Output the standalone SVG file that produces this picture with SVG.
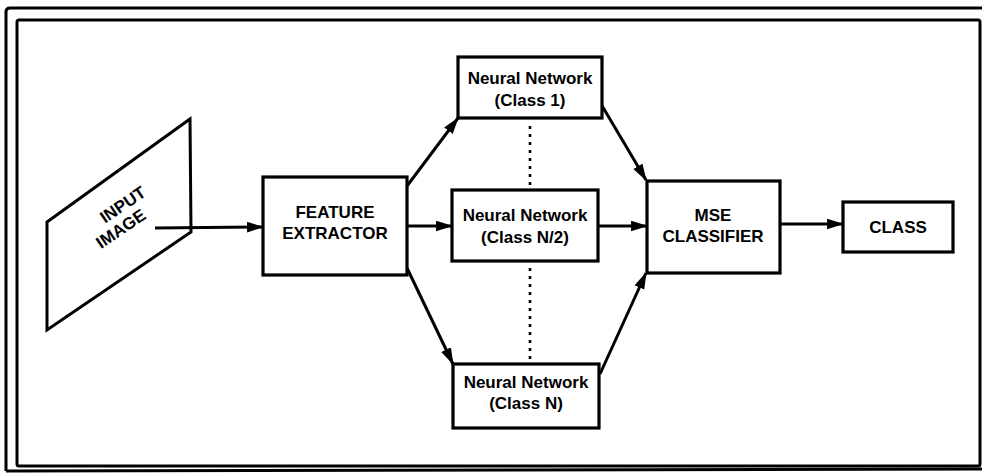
<svg xmlns="http://www.w3.org/2000/svg" width="982" height="474" viewBox="0 0 982 474">
  <style>
    .frame { fill: none; stroke: #000; stroke-width: 3; }
    .box { fill: #fff; stroke: #000; stroke-width: 3.2; }
    .lbl { font-family: "Liberation Sans", Arial, Helvetica, sans-serif; font-weight: bold; font-size: 17px; fill: #000; text-anchor: middle; dominant-baseline: central; }
    .wire { fill: none; stroke: #000; stroke-width: 3; }
    .dots { fill: none; stroke: #000; stroke-width: 2.6; stroke-dasharray: 3 5; }
  </style>
  <defs>
    <marker id="arrow" viewBox="0 0 16 10" refX="15" refY="5" markerUnits="userSpaceOnUse" markerWidth="17" markerHeight="11" orient="auto">
      <path d="M0,0 L16,5 L0,10 Z" fill="#000"/>
    </marker>
  </defs>
  <rect width="982" height="474" fill="#fff"/>

  <!-- double page frame -->
  <path class="frame" d="M6,471 L6,12 Q6,8 10,8 L984,8"/>
  <path class="frame" d="M984,469 L6,471"/>
  <rect class="frame" x="17" y="20" width="963" height="446" rx="2"/>

  <!-- connectors -->
  <g id="connectors">
    <line class="wire" x1="155" y1="228" x2="263" y2="227" marker-end="url(#arrow)"/>
    <line class="wire" x1="407" y1="186" x2="458" y2="118" marker-end="url(#arrow)"/>
    <line class="wire" x1="407" y1="226" x2="452" y2="226" marker-end="url(#arrow)"/>
    <line class="wire" x1="407" y1="268" x2="453" y2="364" marker-end="url(#arrow)"/>
    <line class="wire" x1="601" y1="104" x2="646" y2="180" marker-end="url(#arrow)"/>
    <line class="wire" x1="598" y1="226" x2="647" y2="226" marker-end="url(#arrow)"/>
    <line class="wire" x1="600" y1="374" x2="646" y2="273" marker-end="url(#arrow)"/>
    <line class="wire" x1="780" y1="224" x2="843" y2="224" marker-end="url(#arrow)"/>
    <line class="dots" x1="530" y1="126" x2="530" y2="186"/>
    <line class="dots" x1="530" y1="268" x2="530" y2="360"/>
  </g>

  <g id="input-image">
    <path class="frame" d="M47,222 L190,119 L191,232 L47,330 Z" stroke-width="3.2" fill="none"/>
    <text class="lbl" transform="translate(123,205) rotate(-34)">INPUT</text>
    <text class="lbl" transform="translate(121,229) rotate(-34)">IMAGE</text>
  </g>

  <g id="feature-extractor">
    <rect class="box" x="263" y="177" width="144" height="98"/>
    <text class="lbl" x="335" y="212">FEATURE</text>
    <text class="lbl" x="335" y="233">EXTRACTOR</text>
  </g>

  <g id="nn-class-1">
    <rect class="box" x="458" y="57" width="144" height="61"/>
    <text class="lbl" x="530" y="78">Neural Network</text>
    <text class="lbl" x="530" y="100">(Class 1)</text>
  </g>

  <g id="nn-class-n2">
    <rect class="box" x="452" y="190" width="146" height="71"/>
    <text class="lbl" x="525" y="215">Neural Network</text>
    <text class="lbl" x="525" y="237">(Class N/2)</text>
  </g>

  <g id="nn-class-n">
    <rect class="box" x="453" y="364" width="146" height="64"/>
    <text class="lbl" x="526" y="382">Neural Network</text>
    <text class="lbl" x="526" y="403">(Class N)</text>
  </g>

  <g id="mse-classifier">
    <rect class="box" x="647" y="181" width="133" height="92"/>
    <text class="lbl" x="713" y="215">MSE</text>
    <text class="lbl" x="713" y="236">CLASSIFIER</text>
  </g>

  <g id="class">
    <rect class="box" x="843" y="202" width="110" height="50"/>
    <text class="lbl" x="898" y="227">CLASS</text>
  </g>
</svg>
